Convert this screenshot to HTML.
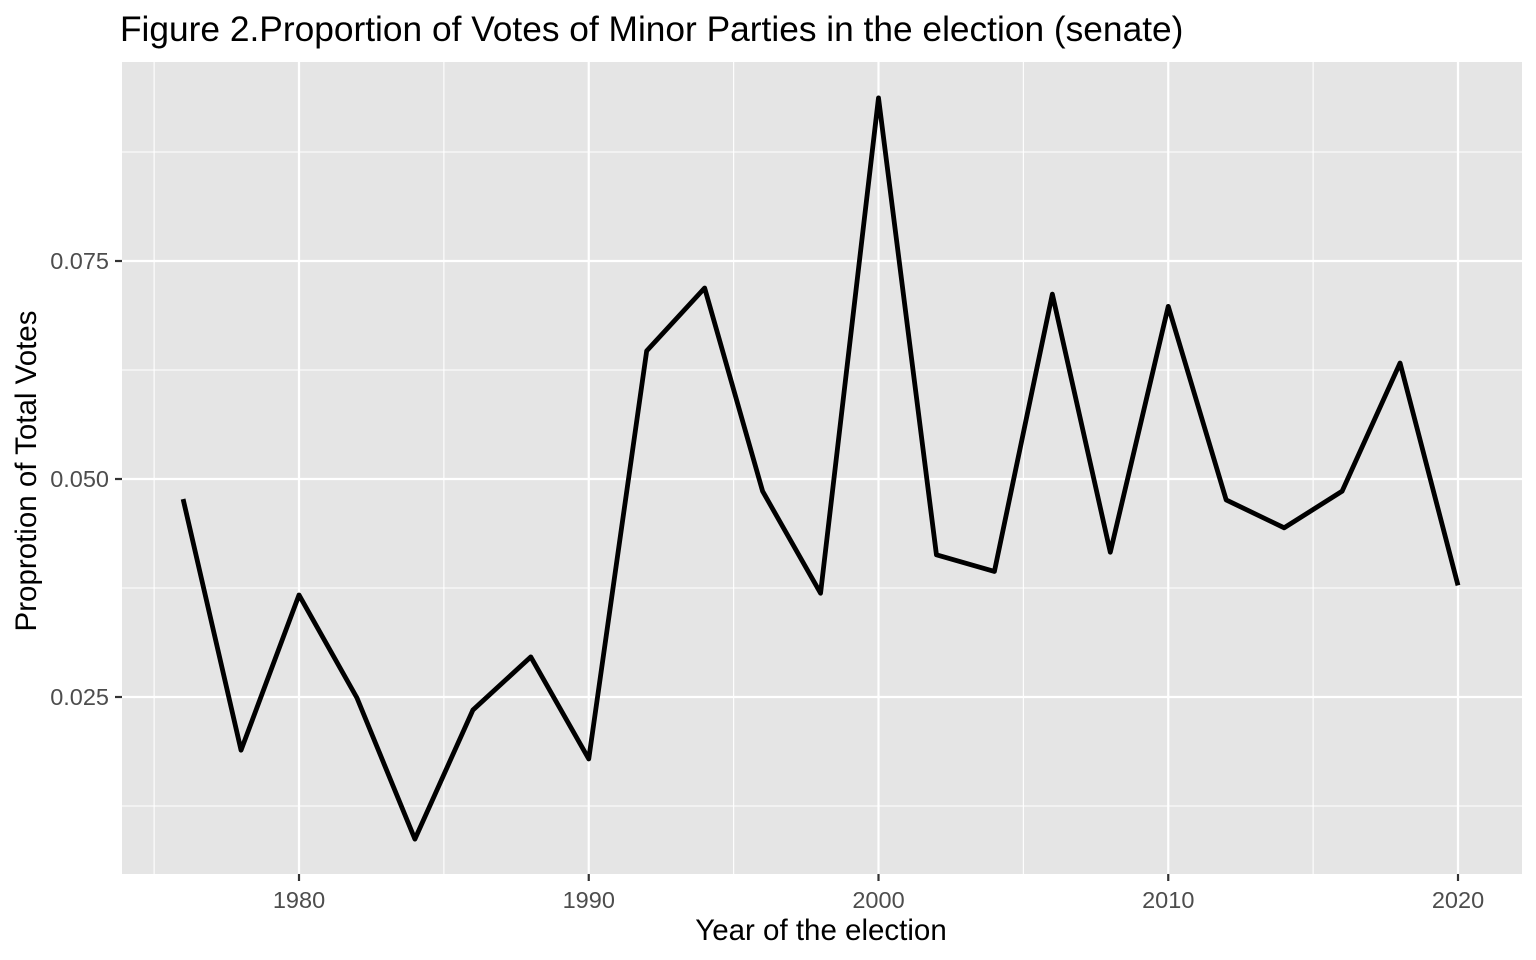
<!DOCTYPE html>
<html><head><meta charset="utf-8"><style>
body{margin:0;background:#fff;}
svg{display:block;font-family:"Liberation Sans",Arial,sans-serif;}
</style></head><body>
<svg id="chart" width="1536" height="960">
<rect x="122" y="62" width="1400" height="812" fill="#e5e5e5"/>
<g id="grid"></g>
<g id="axes"></g>
<polyline id="line" fill="none" stroke="#000" stroke-width="4.8" stroke-linejoin="round"/>
<text x="120" y="41" font-size="35.3" fill="#000">Figure 2.Proportion of Votes of Minor Parties in the election (senate)</text>
<text x="821" y="940" font-size="29.5" text-anchor="middle" fill="#000">Year of the election</text>
<text transform="translate(36,471) rotate(-90)" font-size="29.5" text-anchor="middle" fill="#000">Proprotion of Total Votes</text>
</svg>
<script>
const years=[1976,1978,1980,1982,1984,1986,1988,1990,1992,1994,1996,1998,2000,2002,2004,2006,2008,2010,2012,2014,2016,2018,2020];
const shares=[0.0477,0.0189,0.0367,0.0249,0.0087,0.0235,0.0296,0.0179,0.0647,0.0719,0.0486,0.0369,0.0937,0.0413,0.0394,0.0712,0.0416,0.0698,0.0476,0.0444,0.0486,0.0633,0.0378];
const xTicks=[1980,1990,2000,2010,2020];
const xMinor=[1975,1985,1995,2005,2015];
const yTicks=[0.025,0.050,0.075];
const yTickLabels=["0.025","0.050","0.075"];
const yMinor=[0.0125,0.0375,0.0625,0.0875];
function X(v){return 299+(v-1980)*(1458-299)/40;}
function Y(v){return 479-(v-0.05)*218/0.025;}
const NS="http://www.w3.org/2000/svg";
const grid=document.getElementById('grid'),axes=document.getElementById('axes');
function mk(tag,attrs,parent){const e=document.createElementNS(NS,tag);for(const k in attrs)e.setAttribute(k,attrs[k]);parent.appendChild(e);return e;}
xMinor.forEach(v=>{const l=mk('line',{x1:X(v),x2:X(v),y1:62,y2:874,stroke:'#fff','stroke-width':1.1},grid);

});
yMinor.forEach(v=>{const l=mk('line',{x1:122,x2:1522,y1:Y(v),y2:Y(v),stroke:'#fff','stroke-width':1.1},grid);

});
xTicks.forEach(v=>{const l=mk('line',{x1:X(v),x2:X(v),y1:62,y2:874,stroke:'#fff','stroke-width':2.2},grid);


const t=mk('line',{x1:X(v),x2:X(v),y1:874,y2:881,stroke:'#333','stroke-width':2.2},axes);


const tx=mk('text',{x:X(v),y:908,'font-size':23.5,'text-anchor':'middle',fill:'#4d4d4d'},axes);tx.textContent=v;

});
yTicks.forEach((v,i)=>{const l=mk('line',{x1:122,x2:1522,y1:Y(v),y2:Y(v),stroke:'#fff','stroke-width':2.2},grid);


const t=mk('line',{x1:115,x2:122,y1:Y(v),y2:Y(v),stroke:'#333','stroke-width':2.2},axes);


const tx=mk('text',{x:109,y:Y(v)+8,'font-size':23.5,'text-anchor':'end',fill:'#4d4d4d'},axes);tx.textContent=yTickLabels[i];

});
document.getElementById('line').setAttribute('points',years.map((y,i)=>X(y)+','+Y(shares[i])).join(' '));
</script>
</body></html>
